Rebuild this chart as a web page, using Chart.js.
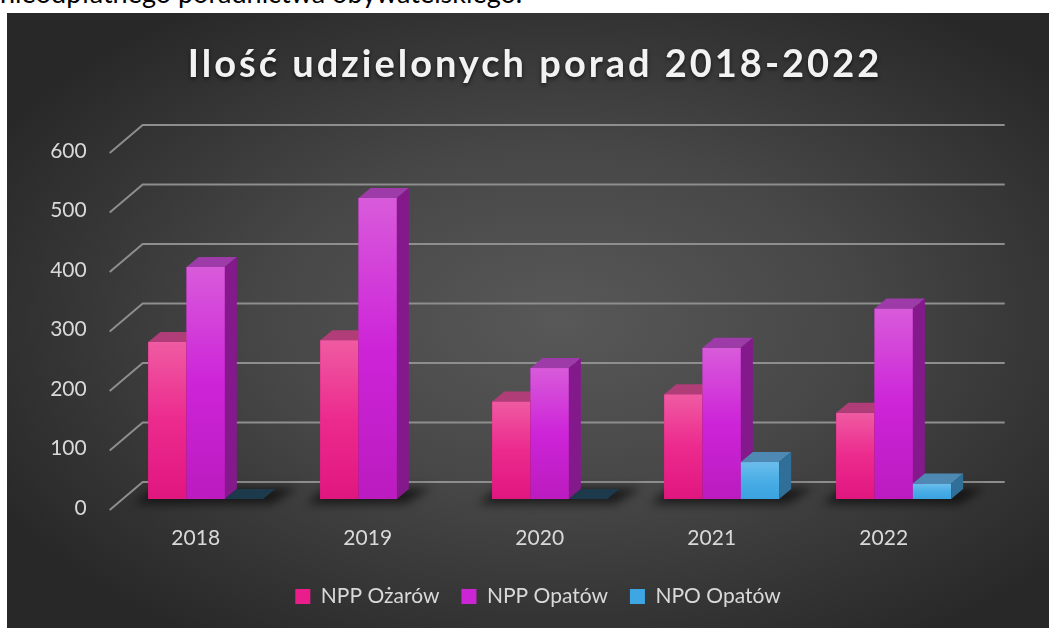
<!DOCTYPE html>
<html>
<head>
<meta charset="utf-8">
<script src="https://cdn.jsdelivr.net/npm/chart.js@4.4.1/dist/chart.umd.min.js"></script>
<style>
  html, body { margin:0; padding:0; background:#fff; width:1049px; height:628px; overflow:hidden; }
  #above { position:absolute; left:0; top:-24px; font:27px Lato, sans-serif; color:#000; white-space:nowrap; }
  #box { position:absolute; left:7px; top:13px; width:1042px; height:615px;
         background: radial-gradient(ellipse 62% 62% at 53% 50%, #585858 0%, #474747 45%, #333 80%, #282828 100%); }
  #mycanvas { position:absolute; left:0; top:0; }
</style>
</head>
<body>
<div id="above">nieodpłatnego poradnictwa obywatelskiego.</div>
<div id="box"><canvas id="mycanvas" width="1042" height="615"></canvas></div>
<script>
// dane z wykresu
var years = ['2018', '2019', '2020', '2021', '2022'];
var nppOzarow = [264, 267, 164, 176, 145];
var nppOpatow = [390, 506, 220, 254, 320];
var npoOpatow = [0, null, 0, 62, 26];
var seriesNames = ['NPP Ożarów', 'NPP Opatów', 'NPO Opatów'];
var yMin = 0, yMax = 600, yStep = 100;
var chartTitle = 'Ilość udzielonych porad 2018-2022';

var txtColor = '#d9d9d9';
var dx = 12, dy = -10; // glebokosc slupka
var faces = [
	{ legend: '#e91e8c', front: ['#ef5ba2', '#ec2a8e', '#e0167f'], top: '#b03d78', side: '#9b1965' },
	{ legend: '#cc25d6', front: ['#d85bda', '#cd24d8', '#bb1bbf'], top: '#9d3ca8', side: '#84198c' },
	{ legend: '#3ea6e3', front: ['#6cbdec', '#4aaee6', '#3aa2e0'], top: '#4d89b3', side: '#2f6f98' }
];
var zeroPlate = '#1c3a4c';

var bars3d = {
	id: 'bars3d',
	beforeDatasetsDraw: function(chart) {
		var ctx = chart.ctx, ys = chart.scales.y, area = chart.chartArea;
		ctx.save();
		// linie siatki na tylnej scianie
		ctx.strokeStyle = '#8e8e8e';
		ctx.lineWidth = 2;
		ys.ticks.forEach(function(t) {
			var py = ys.getPixelForValue(t.value);
			ctx.beginPath();
			ctx.moveTo(area.left - 10, py + 11);
			ctx.lineTo(area.left + 23, py - 17);
			ctx.lineTo(area.right + 25, py - 17);
			ctx.stroke();
		});
		// cien pod grupami
		ctx.filter = 'blur(5px)';
		ctx.fillStyle = 'rgba(0,0,0,0.6)';
		for (var i = 0; i < years.length; i++) {
			var l = Infinity, r = -Infinity, b = 0;
			chart.data.datasets.forEach(function(ds, d) {
				var el = chart.getDatasetMeta(d).data[i];
				if (ds.data[i] === null || !el) return;
				l = Math.min(l, el.x - el.width / 2);
				r = Math.max(r, el.x + el.width / 2);
				b = el.base;
			});
			ctx.beginPath();
			ctx.moveTo(l - 14, b + 5);
			ctx.lineTo(r + 8, b + 5);
			ctx.lineTo(r + dx + 22, b + dy - 1);
			ctx.lineTo(l + dx - 6, b + dy - 1);
			ctx.closePath();
			ctx.fill();
		}
		ctx.restore();
	},
	afterDatasetsDraw: function(chart) {
		var ctx = chart.ctx;
		ctx.save();
		for (var i = 0; i < years.length; i++) {
			chart.data.datasets.forEach(function(ds, d) {
				if (ds.data[i] === null) return;
				var el = chart.getDatasetMeta(d).data[i];
				var p = el.getProps(['x', 'y', 'base', 'width'], true);
				var L = p.x - p.width / 2, R = p.x + p.width / 2, T = p.y, B = p.base;
				var f = faces[d];
				if (ds.data[i] === 0) {
					ctx.fillStyle = zeroPlate;
					ctx.beginPath();
					ctx.moveTo(L, B); ctx.lineTo(R, B); ctx.lineTo(R + dx, B + dy); ctx.lineTo(L + dx, B + dy);
					ctx.closePath(); ctx.fill();
					return;
				}
				var g = ctx.createLinearGradient(0, T, 0, B);
				g.addColorStop(0, f.front[0]);
				g.addColorStop(0.5, f.front[1]);
				g.addColorStop(1, f.front[2]);
				ctx.fillStyle = g;
				ctx.fillRect(L, T, R - L, B - T);
				ctx.fillStyle = f.top;
				ctx.beginPath();
				ctx.moveTo(L, T); ctx.lineTo(R, T); ctx.lineTo(R + dx, T + dy); ctx.lineTo(L + dx, T + dy);
				ctx.closePath(); ctx.fill();
				ctx.fillStyle = f.side;
				ctx.beginPath();
				ctx.moveTo(R, T); ctx.lineTo(R + dx, T + dy); ctx.lineTo(R + dx, B + dy); ctx.lineTo(R, B);
				ctx.closePath(); ctx.fill();
			});
		}
		ctx.restore();
	},
	afterDraw: function(chart) {
		var ctx = chart.ctx;
		ctx.save();
		ctx.font = 'bold 38px Lato';
		ctx.letterSpacing = '3px';
		ctx.textAlign = 'center';
		ctx.textBaseline = 'alphabetic';
		ctx.shadowColor = 'rgba(0,0,0,0.6)';
		ctx.shadowBlur = 4;
		ctx.shadowOffsetY = 2;
		ctx.fillStyle = '#f2f2f2';
		ctx.fillText(chartTitle, 528, 64);
		ctx.restore();
	}
};

var ctx = document.getElementById('mycanvas');
var datasetsData = [nppOzarow, nppOpatow, npoOpatow];

var chartdata = {
	labels: years,
	datasets: seriesNames.map(function(name, d) {
		return {
			label: name,
			data: datasetsData[d],
			backgroundColor: faces[d].legend,
			borderWidth: 0,
			barPercentage: 1,
			categoryPercentage: 0.668
		};
	})
};

var BarGraph = new Chart(ctx, {
	type: 'bar',
	data: chartdata,
	plugins: [bars3d],
	options: {
		responsive: false,
		animation: false,
		layout: { padding: { top: 129, right: 10, left: 30, bottom: 11 } },
		plugins: {
			title: { display: false },
			tooltip: { enabled: false },
			legend: {
				position: 'bottom',
				labels: {
					color: txtColor,
					font: { family: 'Lato', size: 21 },
					boxWidth: 15,
					boxHeight: 15,
					padding: 22
				}
			}
		},
		scales: {
			x: {
				grid: { display: false, drawTicks: false },
				border: { display: false },
				ticks: { color: txtColor, font: { family: 'Lato', size: 21 }, padding: 27, labelOffset: -10 },
				afterFit: function(s) { s.height = 65; }
			},
			y: {
				min: yMin, max: yMax,
				grid: { display: false, drawTicks: false },
				border: { display: false },
				ticks: { stepSize: yStep, color: txtColor, font: { family: 'Lato', size: 21 }, padding: 33, labelOffset: 9 },
				afterFit: function(s) { s.width = 82.7; }
			},
			// pusta os po prawej, tylko zeby legenda byla na srodku
			yRight: {
				position: 'right',
				min: yMin, max: yMax,
				grid: { display: false, drawTicks: false },
				border: { display: false },
				ticks: { display: false },
				afterFit: function(s) { s.width = 59.3; }
			}
		}
	}
});
</script>
</body>
</html>
